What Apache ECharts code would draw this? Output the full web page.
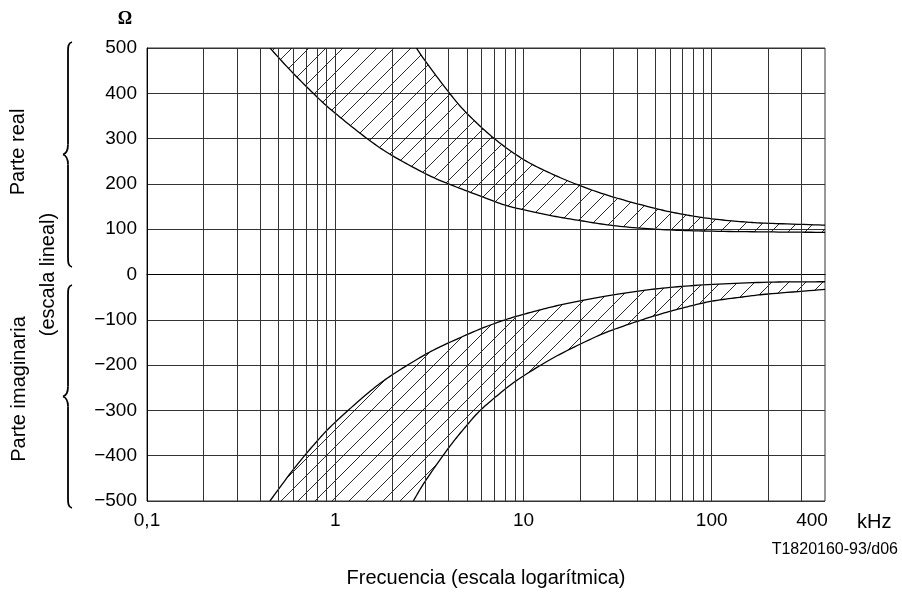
<!DOCTYPE html>
<html>
<head>
<meta charset="utf-8">
<script src="https://cdn.jsdelivr.net/npm/echarts@6/dist/echarts.min.js"></script>
<style>
  html, body { margin: 0; padding: 0; background: #fff; }
  #chart { width: 902px; height: 593px; }
</style>
</head>
<body>
<div id="chart"></div>
<script>
// Frequency gridlines (kHz) on the logarithmic axis
const gridFreqs = [0.2, 0.3, 0.4, 0.5, 0.6, 0.7, 0.8, 0.9,
                   1, 2, 3, 4, 5, 6, 7, 8, 9,
                   10, 20, 30, 40, 50, 60, 70, 80, 90,
                   100, 200, 300];

// Real part of the impedance (Ω): upper and lower limits, [kHz, Ω]
const realUpper = [[2.7, 500], [3, 472], [4, 403], [5, 356], [7, 300], [10, 254],
                   [14, 223], [20, 196], [30, 171], [50, 146], [70, 133],
                   [100, 123], [150, 116], [200, 113], [400, 109]];
const realLower = [[0.45, 500], [0.58, 450], [0.8, 392], [1, 356], [1.5, 298],
                   [2, 263], [3, 223], [4, 200], [6, 172], [8, 153], [10, 143],
                   [14, 130], [20, 119], [30, 108], [50, 100], [90, 96],
                   [200, 94], [400, 93]];

// Imaginary part of the impedance (Ω): upper and lower limits, [kHz, Ω]
const imagUpper = [[0.45, -500], [0.6, -430], [0.8, -368], [1, -326], [1.5, -261],
                   [2, -222], [3, -177], [4, -151], [6, -119], [8, -100], [10, -88],
                   [14, -72], [20, -58], [30, -45], [50, -32], [90, -23],
                   [200, -17], [400, -16]];
const imagLower = [[2.6, -500], [3, -457], [4, -383], [5, -333], [6, -297], [8, -253],
                   [10, -224], [15, -180], [25, -135], [35, -112], [50, -91],
                   [70, -74], [100, -59], [150, -49], [200, -43], [400, -33]];

const FONT = '"Liberation Sans", Arial, Helvetica, sans-serif';

// Diagonal hatching tile used to fill the tolerance bands
function hatchTile(step) {
  const c = document.createElement('canvas');
  c.width = step; c.height = step;
  const g = c.getContext('2d');
  g.strokeStyle = '#111';
  g.lineWidth = 0.9;
  g.beginPath();
  g.moveTo(-1, step + 1); g.lineTo(step + 1, -1);
  g.moveTo(-2, 2); g.lineTo(2, -2);
  g.moveTo(step - 2, step + 2); g.lineTo(step + 2, step - 2);
  g.stroke();
  return c;
}
const hatch = hatchTile(17);

// Catmull-Rom curve through pixel points
function spline(pts, steps) {
  const out = [];
  const n = pts.length;
  for (let i = 0; i < n - 1; i++) {
    const p0 = pts[Math.max(i - 1, 0)], p1 = pts[i], p2 = pts[i + 1], p3 = pts[Math.min(i + 2, n - 1)];
    for (let s = 0; s < steps; s++) {
      const t = s / steps, t2 = t * t, t3 = t2 * t;
      const f = k => 0.5 * (2 * p1[k] + (-p0[k] + p2[k]) * t +
        (2 * p0[k] - 5 * p1[k] + 4 * p2[k] - p3[k]) * t2 +
        (-p0[k] + 3 * p1[k] - 3 * p2[k] + p3[k]) * t3);
      out.push([f(0), f(1)]);
    }
  }
  out.push(pts[n - 1].slice());
  return out;
}

function bandRenderer(upper, lower) {
  return function (params, api) {
    const up = spline(upper.map(p => api.coord(p)), 12);
    const lo = spline(lower.map(p => api.coord(p)), 12);
    const outline = up.concat(lo.slice().reverse());
    const lineStyle = { stroke: '#000', lineWidth: 1.3, fill: null };
    return {
      type: 'group',
      children: [
        { type: 'polygon', shape: { points: outline },
          style: { fill: { image: hatch, repeat: 'repeat' }, stroke: null } },
        { type: 'polyline', shape: { points: up }, style: lineStyle },
        { type: 'polyline', shape: { points: lo }, style: lineStyle }
      ]
    };
  };
}

// Curly brace beside the value axis, tip pointing left
function brace(x, y0, y1) {
  const ym = (y0 + y1) / 2;
  const st = { stroke: '#000', lineWidth: 1.8, fill: null };
  const b = (x1, y1_, cx1, cy1, cx2, cy2, x2, y2) => ({
    type: 'bezierCurve', silent: true, style: st,
    shape: { x1: x1, y1: y1_, cpx1: cx1, cpy1: cy1, cpx2: cx2, cpy2: cy2, x2: x2, y2: y2 }
  });
  const l = (x1, y1_, x2, y2) => ({ type: 'line', silent: true, style: st,
    shape: { x1: x1, y1: y1_, x2: x2, y2: y2 } });
  return [
    b(x + 4, y0, x, y0 + 1, x, y0 + 5, x, y0 + 10),
    l(x, y0 + 10, x, ym - 10),
    b(x, ym - 10, x, ym - 4, x - 2, ym - 1, x - 5, ym),
    b(x - 5, ym, x - 2, ym + 1, x, ym + 4, x, ym + 10),
    l(x, ym + 10, x, y1 - 10),
    b(x, y1 - 10, x, y1 - 5, x, y1 - 1, x + 4, y1)
  ];
}

function freqLabel(v) {
  const r = Math.round(v * 10) / 10;
  const s = String(r).replace('.', ',');
  return r === 400 ? '{shift|' + s + '}' : s;
}

const chart = echarts.init(document.getElementById('chart'), null, { renderer: 'canvas' });

chart.setOption({
  animation: false,
  backgroundColor: '#fff',
  textStyle: { fontFamily: FONT },
  grid: { left: 147, right: 77, top: 48, bottom: 90, show: true,
          borderColor: '#333', borderWidth: 1, backgroundColor: 'transparent' },
  xAxis: {
    type: 'log', logBase: 10, min: 0.1, max: 400,
    name: 'Frecuencia (escala logarítmica)', nameLocation: 'middle', nameGap: 67,
    nameTextStyle: { fontFamily: FONT, fontSize: 20, color: '#000' },
    axisLine: { show: true, lineStyle: { color: '#000', width: 1 } },
    axisTick: { show: false },
    splitLine: { show: false },
    axisLabel: {
      showMinLabel: true, showMaxLabel: true, margin: 10,
      fontFamily: FONT, fontSize: 19, color: '#000',
      formatter: freqLabel,
      rich: { shift: { fontFamily: FONT, fontSize: 19, color: '#000', padding: [0, 26, 0, 0] } }
    }
  },
  yAxis: {
    type: 'value', min: -500, max: 500, interval: 100,
    axisLine: { show: true, lineStyle: { color: '#000', width: 1 } },
    axisTick: { show: false },
    splitLine: { show: true, lineStyle: { color: '#333', width: 1 } },
    axisLabel: {
      margin: 10, fontFamily: FONT, fontSize: 19, color: '#000',
      formatter: v => (v < 0 ? '\u2212' + Math.abs(v) : String(v))
    }
  },
  series: [
    {
      type: 'scatter', data: [[1, 0]], symbolSize: 0, silent: true,
      markLine: {
        silent: true, symbol: ['none', 'none'], label: { show: false },
        lineStyle: { color: '#333', width: 1, type: 'solid' },
        data: gridFreqs.map(v => ({ xAxis: v }))
      }
    },
    { type: 'custom', coordinateSystem: 'cartesian2d', clip: true, silent: true,
      data: [[1, 0]], renderItem: bandRenderer(realUpper, realLower), z: 3 },
    { type: 'custom', coordinateSystem: 'cartesian2d', clip: true, silent: true,
      data: [[1, 0]], renderItem: bandRenderer(imagUpper, imagLower), z: 3 }
  ],
  graphic: [
    { type: 'text', x: 125, y: 19,
      style: { text: 'Ω', font: 'bold 18px "Liberation Serif", "Times New Roman", serif',
               fill: '#000', textAlign: 'center', textVerticalAlign: 'middle' } },
    { type: 'text', x: 18.5, y: 152, rotation: Math.PI / 2,
      style: { text: 'Parte real', font: '20px ' + FONT, fill: '#000',
               textAlign: 'center', textVerticalAlign: 'middle' } },
    { type: 'text', x: 48.5, y: 274.5, rotation: Math.PI / 2,
      style: { text: '(escala lineal)', font: '20px ' + FONT, fill: '#000',
               textAlign: 'center', textVerticalAlign: 'middle' } },
    { type: 'text', x: 19.5, y: 389, rotation: Math.PI / 2,
      style: { text: 'Parte imaginaria', font: '20px ' + FONT, fill: '#000',
               textAlign: 'center', textVerticalAlign: 'middle' } },
    { type: 'text', x: 857, y: 522,
      style: { text: 'kHz', font: '20px ' + FONT, fill: '#000',
               textAlign: 'left', textVerticalAlign: 'middle' } },
    { type: 'text', x: 898, y: 550,
      style: { text: 'T1820160-93/d06', font: '16px ' + FONT, fill: '#000',
               textAlign: 'right', textVerticalAlign: 'middle' } },
    { type: 'group', silent: true, children: brace(68, 42, 267) },
    { type: 'group', silent: true, children: brace(68, 285, 508) }
  ]
});
</script>
</body>
</html>
